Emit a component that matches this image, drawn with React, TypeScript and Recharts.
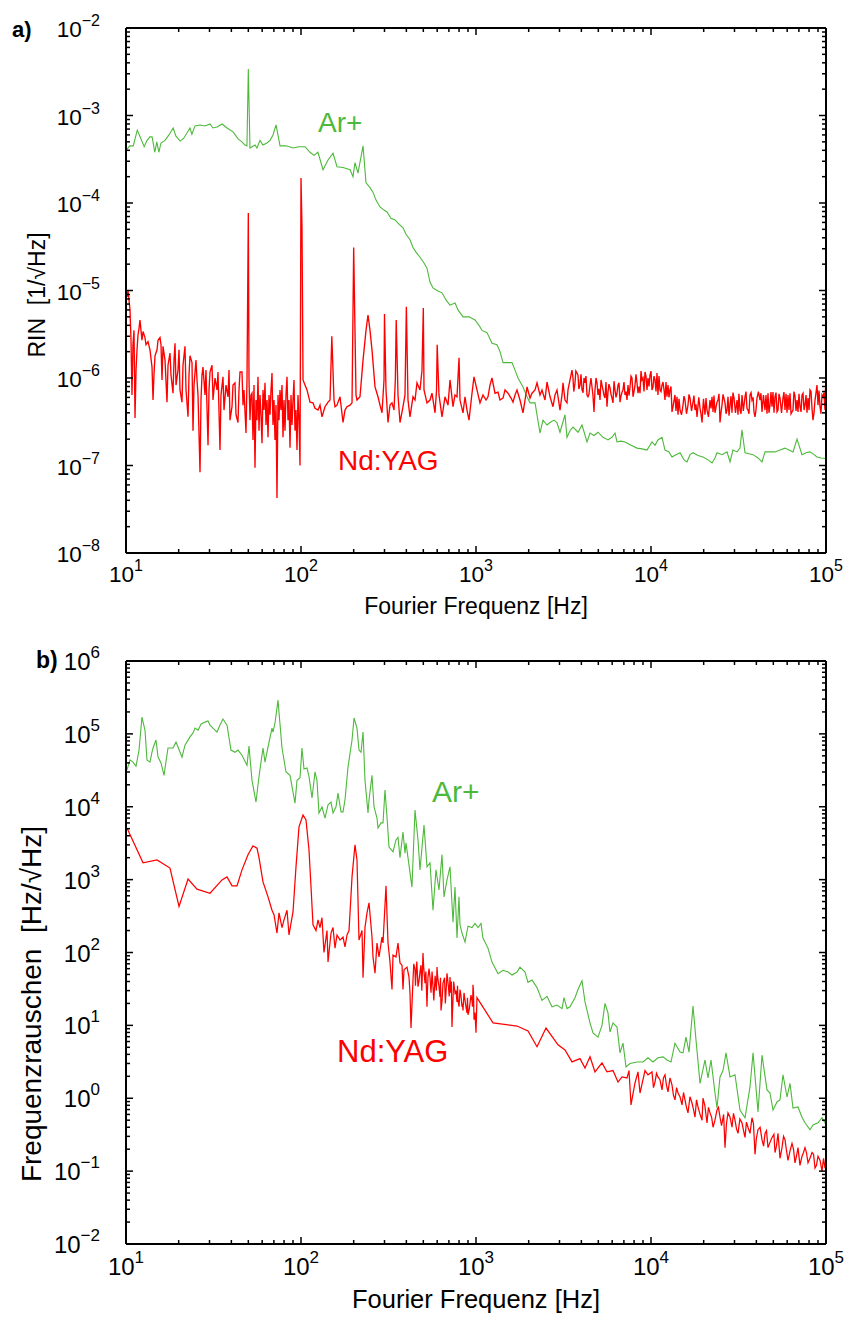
import React from 'react';
import { LineChart, Line, XAxis, YAxis } from 'recharts';

const FONT = '"Liberation Sans", Arial, Helvetica, sans-serif';
const GREEN = '#4db93a';
const RED = '#ff0000';

// tick scaffolding
const MANTISSAS = [1, 2, 3, 4, 5, 6, 7, 8, 9];
const FREQ_DECADES = [1, 2, 3, 4, 5];
const RIN_DECADES = [-8, -7, -6, -5, -4, -3, -2];
const FN_DECADES = [-2, -1, 0, 1, 2, 3, 4, 5, 6];

// Panel a) RIN of Ar+ laser  [f (Hz), RIN (1/sqrt(Hz))]
const ARGON_RIN: [number, number][] = [
  [10, 4.0e-4], [10.5, 4.5e-4], [11.0, 4.5e-4], [11.6, 6.8e-4], [12.0, 5.8e-4], [12.7, 4.4e-4], [13.2, 5.2e-4], [13.7, 5.7e-4],
  [14.1, 5.7e-4], [14.6, 3.8e-4], [15.0, 5.0e-4], [15.4, 3.8e-4], [15.85, 4.85e-4], [16.7, 5.2e-4], [17.6, 6.0e-4], [18.6, 7.2e-4],
  [19.3, 5.8e-4], [20.4, 5.1e-4], [21.4, 5.5e-4], [22.3, 6.3e-4], [23.2, 7.2e-4], [23.8, 6.1e-4], [24.8, 7.6e-4], [26.5, 7.8e-4],
  [28.3, 7.6e-4], [30.2, 8.0e-4], [31.4, 7.2e-4], [33.1, 7.4e-4], [35.4, 8.0e-4], [37.8, 7.2e-4], [40.9, 6.5e-4], [43.7, 5.4e-4],
  [46.0, 5.0e-4], [47.9, 4.6e-4], [49.1, 4.5e-4], [50, 3.4e-3], [51.1, 4.25e-4], [54.6, 4.6e-4], [56.0, 4.25e-4], [58.3, 5.2e-4],
  [60.6, 4.6e-4], [63.9, 4.85e-4], [66.5, 5.2e-4], [69.2, 6.0e-4], [72.0, 7.8e-4], [75.9, 4.5e-4], [82.1, 4.5e-4], [90.2, 4.25e-4],
  [97.4, 4.4e-4], [105.4, 4.4e-4], [112.6, 3.8e-4], [118.7, 3.5e-4], [125, 3.8e-4], [133.6, 2.4e-4], [142.7, 3.1e-4], [152.4, 3.7e-4],
  [160.6, 2.6e-4], [173.8, 2.55e-4], [190.6, 2.4e-4], [198.2, 2.0e-4], [203.5, 2.9e-4], [211.7, 2.2e-4], [226.2, 4.5e-4], [235.2, 1.7e-4],
  [247.9, 1.5e-4], [257.8, 1.33e-4], [268.3, 1.08e-4], [282.8, 9.0e-5], [298, 8.3e-5], [310, 7.9e-5], [326.8, 6.7e-5], [344.5, 6.4e-5],
  [363, 5.75e-5], [383, 5.2e-5], [398, 4.4e-5], [419.6, 3.8e-5], [436.6, 3.1e-5], [454, 2.75e-5], [478.7, 2.4e-5], [504.5, 2.06e-5],
  [524.7, 1.8e-5], [546, 1.25e-5], [568, 1.07e-5], [598.5, 1.0e-5], [639, 9.4e-6], [674, 7.8e-6], [710, 6.8e-6], [759, 7.2e-6],
  [789, 6.0e-6], [843, 5.0e-6], [913, 5.0e-6], [987, 4.6e-6], [1040, 4.0e-6], [1082, 3.5e-6], [1156, 3.3e-6], [1234, 2.5e-6],
  [1318, 2.4e-6], [1372, 2.0e-6], [1427, 1.5e-6], [1504, 1.5e-6], [1606, 1.5e-6], [1671, 1.23e-6], [1738, 1.0e-6], [1856, 7.9e-7],
  [1957, 6.1e-7], [2035, 5.2e-7], [2175, 5.2e-7], [2320, 2.35e-7], [2414, 3.3e-7], [2545, 2.9e-7], [2648, 3.1e-7], [2790, 3.3e-7],
  [2900, 3.1e-7], [3020, 2.4e-7], [3225, 3.8e-7], [3310, 2.1e-7], [3445, 2.5e-7], [3583, 2.75e-7], [3830, 2.4e-7], [4034, 2.9e-7],
  [4309, 1.86e-7], [4481, 2.35e-7], [4724, 2.2e-7], [4980, 2.4e-7], [5316, 2.1e-7], [5680, 1.96e-7], [5985, 2.1e-7], [6230, 2.35e-7],
  [6390, 1.86e-7], [6740, 1.9e-7], [7100, 1.86e-7], [7686, 1.7e-7], [8318, 1.58e-7], [8880, 1.55e-7], [9487, 1.5e-7], [10130, 1.86e-7],
  [10540, 1.7e-7], [10960, 1.96e-7], [11560, 2.1e-7], [12020, 1.5e-7], [12670, 1.43e-7], [13180, 1.25e-7], [13890, 1.33e-7], [14650, 1.4e-7],
  [15440, 1.16e-7], [16060, 1.1e-7], [16710, 1.33e-7], [17380, 1.4e-7], [18560, 1.3e-7], [19820, 1.25e-7], [21170, 1.16e-7], [22320, 1.07e-7],
  [23200, 1.22e-7], [23830, 1.4e-7], [25450, 1.33e-7], [27190, 1.43e-7], [28280, 1.1e-7], [29400, 1.5e-7], [31000, 1.43e-7], [32250, 1.58e-7],
  [33100, 2.55e-7], [34450, 1.4e-7], [36300, 1.36e-7], [38300, 1.33e-7], [40870, 1.22e-7], [43090, 1.1e-7], [44810, 1.43e-7], [47870, 1.43e-7],
  [51100, 1.43e-7], [54600, 1.5e-7], [58300, 1.58e-7], [61400, 1.5e-7], [64800, 1.43e-7], [68300, 2.0e-7], [72900, 1.33e-7], [76900, 1.4e-7],
  [81000, 1.43e-7], [85500, 1.33e-7], [88800, 1.25e-7], [93600, 1.22e-7], [100000, 1.2e-7],
];

// Panel a) RIN of Nd:YAG laser
const YAG_RIN: [number, number][] = [
  [10.13, 8.4e-6], [10.27, 1.0e-5], [10.40, 7.8e-6], [10.54, 6.0e-6], [10.68, 2.7e-6], [10.82, 6.4e-7], [10.96, 2.4e-6], [11.11, 3.5e-6],
  [11.26, 3.5e-7], [11.41, 1.23e-6], [11.56, 2.1e-6], [11.71, 3.1e-6], [11.87, 3.7e-6], [12.02, 4.6e-6], [12.18, 3.5e-6], [12.34, 2.7e-6],
  [12.51, 3.4e-6], [12.84, 2.9e-6], [13.01, 2.4e-6], [13.36, 2.6e-6], [13.71, 2.1e-6], [14.08, 1.33e-6], [14.27, 5.6e-7], [14.45, 1.08e-6],
  [14.65, 1.8e-6], [15.04, 2.1e-6], [15.24, 2.7e-6], [15.64, 2.9e-6], [15.85, 2.4e-6], [16.06, 9.5e-7], [16.27, 2.3e-6], [16.71, 1.6e-6],
  [17.15, 5.3e-7], [17.38, 1.4e-6], [17.84, 1.93e-6], [18.08, 1.08e-6], [18.56, 6.7e-7], [18.81, 1.6e-6], [19.06, 2.5e-6], [19.31, 8.3e-7],
  [19.82, 1.23e-6], [20.09, 2.1e-6], [20.35, 7.3e-7], [20.89, 5.3e-7], [21.17, 1.4e-6], [21.73, 2.3e-6], [22.03, 7.3e-7], [22.62, 3.6e-7],
  [22.91, 1.08e-6], [23.21, 1.8e-6], [23.83, 1.5e-6], [24.15, 2.5e-7], [24.47, 8.3e-7], [25.12, 1.6e-6], [25.45, 9.5e-7], [25.79, 6.4e-7],
  [26.48, 8.4e-8], [26.83, 5.6e-7], [27.18, 1.08e-6], [27.54, 1.33e-6], [28.28, 6.4e-7], [28.65, 1.23e-6], [29.42, 1.7e-7], [29.81, 7.3e-7],
  [30.20, 1.17e-6], [31.01, 1.4e-6], [31.42, 5.6e-7], [32.25, 1.0e-6], [33.11, 7.3e-7], [33.55, 1.17e-6], [34.45, 1.5e-7], [34.90, 6.4e-7],
  [35.83, 1.03e-6], [36.31, 4.3e-7], [37.28, 8.3e-7], [38.27, 6.1e-7], [38.78, 1.23e-6], [39.29, 3.3e-7], [40.34, 4.7e-7], [40.87, 8.3e-7],
  [41.96, 8.8e-7], [42.52, 3.8e-7], [43.65, 3.1e-7], [44.23, 7.3e-7], [44.82, 1.17e-6], [46.01, 1.17e-6], [46.62, 4.9e-7], [47.24, 7.3e-7],
  [48.50, 2.35e-7], [49.14, 9.5e-7], [50.0, 7.7e-5], [50.45, 9.5e-7], [51.12, 3.3e-7], [51.79, 6.4e-7], [52.48, 6.7e-7], [53.17, 1.96e-7],
  [53.88, 8.3e-7], [54.59, 9.4e-8], [55.32, 5.6e-7], [56.05, 3.3e-7], [56.79, 1.03e-6], [57.54, 2.5e-7], [58.31, 6.4e-7], [59.07, 3.8e-7],
  [59.86, 1.8e-7], [60.65, 7.3e-7], [61.45, 4.3e-7], [62.27, 8.8e-7], [63.10, 2.9e-7], [63.93, 5.6e-7], [64.78, 2.1e-7], [65.64, 6.4e-7],
  [66.51, 3.8e-7], [67.39, 7.3e-7], [68.28, 1.14e-6], [69.18, 2.9e-7], [70.10, 5.6e-7], [71.03, 1.96e-7], [71.97, 4.9e-7], [72.92, 4.25e-8],
  [73.89, 6.4e-7], [74.87, 3.3e-7], [75.86, 7.3e-7], [76.86, 4.3e-7], [77.88, 8.3e-7], [78.91, 2.1e-7], [79.95, 5.6e-7], [81.01, 2.5e-7],
  [82.09, 6.4e-7], [83.18, 1.03e-6], [84.28, 3.3e-7], [85.40, 5.6e-7], [86.53, 1.6e-7], [87.67, 6.4e-7], [88.83, 2.9e-7], [90.01, 5.6e-7],
  [91.20, 9.5e-7], [92.41, 2.5e-7], [93.63, 4.3e-7], [94.87, 1.5e-7], [96.13, 6.4e-7], [97.40, 3.3e-7], [98.69, 1.0e-7], [100, 1.93e-4],
  [101.3, 5.3e-5], [102.7, 9.5e-7], [105.4, 8.3e-7], [108.2, 7.3e-7], [112.6, 5.3e-7], [117.1, 5.2e-7], [120.2, 4.5e-7], [125.1, 4.3e-7],
  [128.4, 4.9e-7], [131.8, 3.6e-7], [137.1, 4.7e-7], [142.7, 5.3e-7], [146.5, 5.6e-7], [150, 3.0e-6], [154.4, 5.6e-7], [156.4, 4.7e-7],
  [160.6, 4.9e-7], [167.1, 6.1e-7], [173.8, 3.1e-7], [178.4, 4.3e-7], [183.2, 4.7e-7], [190.6, 4.9e-7], [195.7, 5.2e-7], [200, 3.1e-5],
  [206.2, 6.4e-7], [208.9, 5.6e-7], [217.3, 6.1e-7], [226.2, 1.6e-6], [235.2, 3.5e-6], [241.5, 5.25e-6], [247.9, 3.5e-6], [254.5, 2.1e-6],
  [264.8, 7.9e-7], [275.4, 6.1e-7], [282.8, 4.9e-7], [290.3, 4.0e-7], [298.1, 9.5e-7], [300, 5.4e-6], [306.0, 7.3e-7], [314.2, 3.1e-7],
  [322.5, 4.9e-7], [331.1, 5.2e-7], [340.0, 4.3e-7], [346, 9.5e-7], [350, 4.6e-6], [358.3, 6.4e-7], [367.9, 3.1e-7], [382.7, 4.7e-7],
  [392.9, 6.4e-7], [400, 6.5e-6], [408.7, 5.6e-7], [419.6, 3.6e-7], [436.5, 6.1e-7], [448.2, 5.6e-7], [460.1, 8.8e-7], [478.6, 7.3e-7],
  [491.4, 1.23e-6], [500, 6.3e-6], [504.5, 7.3e-7], [524.8, 5.2e-7], [545.9, 5.6e-7], [560.4, 6.7e-7], [583.2, 4.0e-7], [595, 7.3e-7],
  [600, 2.4e-6], [614.5, 6.4e-7], [639.3, 3.6e-7], [665.1, 6.1e-7], [691.8, 4.9e-7], [710.3, 9.5e-7], [738.8, 4.7e-7], [758.6, 6.4e-7],
  [778.8, 6.1e-7], [800, 1.7e-6], [810.1, 5.6e-7], [842.8, 4.0e-7], [865.3, 6.1e-7], [888.3, 4.3e-7], [912.0, 3.3e-7], [948.7, 6.7e-7],
  [974.0, 1.03e-6], [1013, 7.3e-7], [1054, 5.2e-7], [1096, 6.4e-7], [1141, 5.6e-7], [1171, 6.1e-7], [1202, 8.3e-7], [1234, 1.0e-6],
  [1284, 6.7e-7], [1336, 6.9e-7], [1371, 5.6e-7], [1427, 5.9e-7], [1465, 7.3e-7], [1524, 6.7e-7], [1585, 5.9e-7], [1627, 5.3e-7],
  [1671, 6.4e-7], [1715, 7.3e-7], [1784, 5.6e-7], [1856, 4.0e-7], [1906, 5.6e-7], [1957, 7.9e-7], [2035, 5.9e-7], [2089, 6.7e-7],
  [2173, 7.3e-7], [2232, 8.8e-7], [2321, 6.4e-7], [2383, 7.3e-7], [2479, 5.6e-7], [2545, 9.0e-7], [2648, 6.1e-7], [2754, 4.7e-7],
  [2828, 6.4e-7], [2903, 7.3e-7], [3020, 4.3e-7], [3101, 6.4e-7], [3142, 8.8e-7], [3225, 5.6e-7], [3311, 5.2e-7], [3355, 7.3e-7],
  [3445, 9.5e-7], [3536, 1.23e-6], [3583, 1.0e-6], [3679, 8.8e-7], [3777, 1.14e-6], [3827, 1.08e-6], [3929, 8.3e-7], [4034, 7.3e-7],
  [4141, 1.0e-6], [4196, 8.8e-7], [4308, 6.4e-7], [4365, 6.1e-7], [4482, 8.3e-7], [4601, 7.9e-7], [4724, 4.1e-7], [4786, 7.3e-7],
  [4914, 8.8e-7], [4979, 6.4e-7], [5112, 5.6e-7], [5248, 8.3e-7], [5317, 7.3e-7], [5459, 5.9e-7], [5605, 4.7e-7], [5679, 6.9e-7],
  [5831, 7.7e-7], [5986, 5.9e-7], [6065, 5.2e-7], [6227, 7.3e-7], [6393, 6.7e-7], [6478, 8.3e-7], [6651, 5.3e-7], [6828, 6.9e-7],
  [6918, 7.3e-7], [7103, 6.4e-7], [7292, 5.6e-7], [7389, 8.3e-7], [7586, 7.9e-7], [7788, 1.0e-6], [7891, 6.1e-7], [8101, 8.3e-7],
  [8318, 8.8e-7], [8428, 6.7e-7], [8653, 6.7e-7], [8883, 9.5e-7], [9001, 1.0e-6], [9241, 1.17e-6], [9487, 7.3e-7], [9613, 1.0e-6],
  [9869, 1.08e-6], [10130, 7.3e-7], [10270, 7.9e-7], [10540, 9.5e-7], [10820, 1.14e-6], [10960, 6.4e-7], [11260, 7.3e-7], [11560, 8.3e-7],
  [11710, 9.0e-7], [12020, 5.6e-7], [12340, 6.1e-7], [12510, 8.3e-7], [12840, 7.3e-7], [13180, 4.1e-7], [13360, 4.7e-7], [13710, 6.4e-7],
  [14080, 6.1e-7], [14270, 3.8e-7], [14650, 4.3e-7], [15240, 4.9e-7], [15640, 5.6e-7], [16270, 4.9e-7], [16710, 5.9e-7], [17380, 5.3e-7],
  [17840, 4.3e-7], [18320, 3.6e-7], [19060, 4.5e-7], [19570, 3.1e-7], [20350, 3.8e-7], [20890, 4.3e-7], [21730, 5.6e-7], [22320, 6.1e-7],
  [22620, 4.1e-7], [23210, 4.0e-7], [23830, 5.3e-7], [24150, 5.6e-7], [24790, 3.1e-7], [25450, 4.9e-7], [26480, 5.2e-7], [27180, 4.3e-7],
  [27540, 6.1e-7], [28280, 4.9e-7], [29030, 4.0e-7], [29810, 5.9e-7], [31010, 5.6e-7], [31420, 3.8e-7], [32250, 4.3e-7], [33110, 6.4e-7],
  [34450, 6.1e-7], [35360, 4.5e-7], [35830, 4.3e-7], [36790, 6.4e-7], [37770, 5.6e-7], [38780, 4.1e-7], [39290, 3.6e-7], [40340, 5.9e-7],
  [41960, 5.6e-7], [43080, 4.1e-7], [44820, 4.3e-7], [45410, 6.4e-7], [46620, 6.7e-7], [47860, 4.9e-7], [49140, 4.7e-7], [49790, 6.9e-7],
  [51120, 6.1e-7], [52480, 4.1e-7], [53170, 4.3e-7], [54590, 5.9e-7], [56790, 5.9e-7], [58310, 4.3e-7], [59860, 4.0e-7], [60650, 6.4e-7],
  [62270, 6.7e-7], [63930, 4.1e-7], [64780, 4.3e-7], [66510, 6.2e-7], [68280, 5.6e-7], [69180, 4.1e-7], [71030, 4.7e-7], [72920, 6.4e-7],
  [73890, 6.7e-7], [75860, 4.9e-7], [77880, 4.0e-7], [78910, 5.9e-7], [81010, 7.3e-7], [83180, 4.5e-7], [84280, 3.3e-7], [86530, 5.6e-7],
  [88830, 8.3e-7], [90010, 4.9e-7], [92410, 4.7e-7], [94870, 6.4e-7], [96130, 6.1e-7], [98690, 4.3e-7], [100000, 5.3e-7],
];

// Panel a) extra Nd:YAG readings in the dense noise band above 3.5 kHz
const YAG_RIN_DENSE: [number, number][] = [
  [3620, 7.0e-7], [3720, 1.2e-6], [3870, 7.5e-7], [3980, 1.1e-6], [4090, 6.8e-7], [4250, 1.05e-6], [4420, 6.5e-7], [4540, 1.0e-6],
  [4660, 6.3e-7], [4850, 1.0e-6], [5040, 7.5e-7], [5180, 9.5e-7], [5390, 6.3e-7], [5530, 9.0e-7], [5750, 8.5e-7], [5910, 6.5e-7],
  [6146, 9.2e-7], [6310, 6.0e-7], [6564, 8.8e-7], [6739, 6.2e-7], [7010, 9.0e-7], [7197, 7.0e-7], [7487, 6.3e-7], [7686, 1.05e-6],
  [7995, 7.0e-7], [8209, 1.1e-6], [8540, 8.0e-7], [8767, 1.2e-6], [9120, 7.0e-7], [9363, 1.05e-6], [9740, 8.0e-7], [10000, 1.2e-6],
  [10400, 1.05e-6], [10680, 7.0e-7], [11110, 1.05e-6], [11410, 7.0e-7], [11870, 7.3e-7], [12180, 9.0e-7], [12670, 6.0e-7], [13010, 8.0e-7],
  [13530, 5.5e-7], [13890, 4.2e-7], [14460, 5.8e-7], [14950, 3.8e-7], [15430, 6.2e-7], [15950, 3.9e-7], [16490, 6.5e-7], [17050, 4.2e-7],
  [17600, 6.3e-7], [18080, 5.0e-7], [18750, 6.0e-7], [19300, 3.9e-7], [19950, 5.8e-7], [20620, 5.9e-7], [21300, 3.6e-7], [22020, 4.5e-7],
  [22900, 6.3e-7], [23500, 4.6e-7], [24470, 6.6e-7], [25100, 4.0e-7], [25800, 6.5e-7], [26830, 3.9e-7], [27900, 3.7e-7], [28650, 6.2e-7],
  [29400, 6.8e-7], [30400, 4.0e-7], [31800, 6.6e-7], [32700, 3.9e-7], [33700, 4.2e-7], [34900, 7.0e-7], [36300, 3.9e-7], [37300, 6.8e-7],
  [38300, 6.0e-7], [39800, 4.3e-7], [41100, 7.0e-7], [42500, 6.7e-7], [43900, 6.4e-7], [46000, 3.9e-7], [47200, 4.0e-7], [48500, 6.9e-7],
  [50450, 4.0e-7], [51800, 6.8e-7], [53900, 6.6e-7], [55700, 4.0e-7], [57500, 6.9e-7], [59100, 6.6e-7], [61450, 4.3e-7], [63100, 3.9e-7],
  [65600, 7.0e-7], [67400, 4.2e-7], [70100, 6.6e-7], [72000, 4.1e-7], [74900, 4.3e-7], [76900, 6.4e-7], [80000, 4.3e-7], [82100, 7.0e-7],
  [85400, 4.0e-7], [87700, 6.8e-7], [91200, 7.2e-7], [93600, 3.9e-7], [97400, 6.8e-7], [99300, 7.6e-7],
];

// Panel b) frequency noise of Ar+ laser  [f (Hz), Hz/sqrt(Hz)]
const ARGON_FN: [number, number][] = [
  [10.13, 3.2e4], [10.54, 4.4e4], [10.96, 4.1e4], [11.41, 3.6e4], [11.87, 6.0e4], [12.34, 1.7e5], [12.84, 1.12e5], [13.18, 4.4e4],
  [13.71, 4.1e4], [14.08, 5.6e4], [14.27, 6.4e4], [14.84, 8.25e4], [15.24, 4.8e4], [15.85, 4.0e4], [16.49, 2.7e4], [17.38, 6.4e4],
  [18.56, 6.4e4], [19.31, 7.7e4], [19.82, 6.6e4], [20.89, 4.8e4], [21.73, 7.0e4], [23.21, 9.1e4], [24.15, 1.03e5], [24.79, 1.2e5],
  [25.79, 1.12e5], [26.83, 1.36e5], [28.28, 1.45e5], [29.42, 1.5e5], [30.2, 1.32e5], [31.42, 1.2e5], [33.11, 1.06e5], [34.45, 1.32e5],
  [35.83, 1.6e5], [37.77, 1.32e5], [39.81, 6.0e4], [41.96, 5.6e4], [43.65, 6.0e4], [46.01, 5.1e4], [49.14, 3.7e4], [50.45, 6.8e4],
  [52.48, 2.3e4], [55.32, 1.16e4], [57.54, 2.6e4], [60.65, 6.4e4], [62.27, 4.1e4], [64.78, 6.6e4], [68.28, 1.2e5], [69.18, 1.06e5],
  [71.03, 1.41e5], [73.89, 2.9e5], [77.88, 6.4e4], [82.09, 3.0e4], [86.53, 2.7e4], [92.41, 1.12e4], [94.87, 2.3e4], [98.69, 2.5e4],
  [101.3, 6.4e4], [104.0, 3.3e4], [108.2, 3.4e4], [111.1, 2.6e4], [115.6, 1.32e4], [120.2, 3.0e4], [123.4, 2.3e4], [126.7, 8.2e3],
  [131.8, 1.0e4], [137.1, 7.0e3], [142.7, 1.06e4], [148.4, 1.16e4], [152.4, 8.2e3], [158.5, 1.0e4], [162.7, 1.54e4], [169.3, 8.5e3],
  [173.8, 8.5e3], [178.4, 1.24e4], [185.6, 3.5e4], [195.7, 8.25e4], [200.9, 1.65e5], [208.9, 1.2e5], [214.5, 6.0e4], [220.3, 5.6e4],
  [226.2, 1.06e5], [232.1, 2.3e4], [241.5, 8.2e3], [244.7, 1.24e4], [254.5, 2.7e4], [261.3, 1.0e4], [271.8, 7.0e3], [275.4, 5.1e3],
  [286.5, 6.0e3], [294.2, 6.0e3], [302.0, 1.7e4], [310.1, 7.2e3], [318.3, 2.8e3], [335.5, 2.4e3], [349.0, 3.5e3], [358.3, 3.8e3],
  [367.9, 2.0e3], [382.7, 4.5e3], [392.9, 2.3e3], [398.1, 3.2e3], [408.7, 2.0e3], [430.5, 7.9e2], [448.2, 9.0e3], [466.2, 3.5e3],
  [478.6, 1.36e3], [504.5, 5.6e3], [524.8, 1.5e3], [545.9, 1.7e3], [568.0, 3.8e2], [590.7, 1.36e3], [614.5, 7.2e2], [639.3, 2.2e3],
  [656.4, 5.8e2], [682.8, 9.9e2], [710.3, 1.5e3], [738.8, 2.6e2], [758.6, 7.9e2], [778.8, 1.58e2], [799.5, 5.8e2], [810.1, 2.4e2],
  [831.8, 1.85e2], [865.3, 1.39e2], [900.1, 2.3e2], [948.7, 2.2e2], [986.9, 2.5e2], [1027, 2.2e2], [1068, 2.5e2], [1096, 1.58e2],
  [1171, 1.15e2], [1234, 74], [1336, 51], [1427, 57], [1524, 54], [1606, 49], [1715, 54], [1784, 63],
  [1906, 54], [1982, 39], [2089, 42], [2232, 33], [2383, 22], [2545, 25], [2718, 18], [2903, 19],
  [3101, 17], [3183, 24], [3311, 17], [3445, 18], [3679, 24], [3827, 31], [4034, 41], [4196, 21],
  [4482, 10.8], [4662, 7.9], [4979, 6.9], [5248, 10], [5459, 20], [5679, 14.8], [5831, 8.1], [6065, 10.8],
  [6393, 9.5], [6651, 4.2], [6918, 5.7], [7197, 2.7], [7586, 3.0], [8318, 3.15], [9001, 3.15], [9613, 3.6],
  [10270, 3.15], [10960, 3.6], [11710, 3.7], [12340, 3.35], [13010, 3.15], [13710, 5.7], [14650, 4.3], [15240, 4.2],
  [15850, 6.9], [16490, 4.3], [17380, 18.4], [18080, 6.3], [19060, 1.6], [20350, 3.35], [21170, 1.9], [22030, 3.35],
  [23210, 1.18], [23830, 0.735], [24790, 1.96], [25790, 2.4], [26830, 4.2], [28280, 1.96], [30200, 2.1], [32250, 0.69],
  [34450, 0.54], [36790, 1.43], [38290, 4.2], [40870, 0.65], [43080, 3.9], [46010, 1.3], [47860, 1.18], [49790, 0.69],
  [52480, 0.89], [54590, 0.95], [56790, 2.1], [59860, 1.04], [62270, 1.6], [64780, 0.735], [69180, 0.76], [72920, 0.55],
  [75860, 0.46], [81010, 0.37], [84280, 0.43], [90010, 0.46], [94870, 0.54], [98690, 0.46], [100000, 0.48],
];

// Panel b) frequency noise of Nd:YAG laser
const YAG_FN: [number, number][] = [
  [10.13, 5.1e3], [12.51, 1.7e3], [15.04, 1.86e3], [17.84, 1.44e3], [20.09, 4.3e2], [22.62, 1.02e3], [25.45, 7.4e2], [30.2, 6.5e2],
  [35.36, 9.9e2], [37.77, 1.09e3], [40.34, 8.2e2], [43.08, 8.2e2], [46.01, 1.36e3], [49.79, 2.2e3], [53.17, 2.9e3], [56.05, 2.7e3],
  [57.54, 2.0e3], [60.65, 9.3e2], [64.78, 5.8e2], [68.28, 3.8e2], [70.10, 3.3e2], [72.92, 1.85e2], [74.87, 3.5e2], [77.88, 2.2e2],
  [79.95, 2.8e2], [83.18, 3.8e2], [85.40, 1.74e2], [88.83, 3.0e2], [90.01, 3.6e2], [93.63, 1.5e3], [97.40, 5.3e3], [102.7, 7.7e3],
  [106.8, 6.6e3], [111.1, 2.55e3], [114.1, 7.9e2], [117.1, 2.4e2], [121.8, 2.0e2], [125.1, 2.8e2], [128.4, 2.2e2], [131.8, 3.0e2],
  [135.3, 1.0e2], [140.8, 2.0e2], [142.7, 74], [148.4, 1.85e2], [152.4, 2.2e2], [156.4, 1.15e2], [160.6, 1.74e2], [167.1, 1.48e2],
  [173.8, 1.63e2], [178.4, 1.19e2], [183.2, 1.74e2], [188.1, 2.0e2], [195.7, 1.09e3], [203.5, 3.0e3], [208.9, 1.86e3], [214.5, 1.48e2],
  [223.2, 2.0e2], [226.2, 45], [232.1, 2.2e2], [238.3, 3.5e2], [244.7, 4.8e2], [254.5, 1.63e2], [257.9, 87], [264.8, 52],
  [271.8, 1.35e2], [279.1, 87], [290.3, 1.63e2], [294.2, 1.35e2], [306.0, 8.2e2], [314.2, 1.35e2], [322.5, 74], [331.1, 31],
  [335.5, 92], [349.0, 87], [358.3, 1.35e2], [367.9, 72], [377.7, 67], [382.7, 31], [387.8, 58], [403.4, 63],
  [414.1, 46], [419.6, 28], [425.2, 9.2], [436.5, 42], [448.2, 58], [454.1, 52], [466.2, 34], [485.0, 67],
  [497.9, 98], [511.2, 38], [524.8, 18], [531.7, 46], [545.9, 46], [553.2, 28], [568.0, 34], [590.7, 34],
  [598.6, 63], [606.5, 42], [622.7, 24.5], [631.0, 16], [647.8, 38], [674.0, 28], [682.8, 52], [710.3, 46],
  [719.7, 33], [728.9, 9.5], [758.6, 28], [778.8, 21], [789.1, 22], [810.1, 31], [831.8, 18], [842.8, 16],
  [865.3, 22], [888.3, 14.8], [900.1, 14], [924.1, 20], [948.7, 22], [961.3, 36], [974.0, 12], [1000, 7.9],
  [1013, 24], [1251, 10.8], [1715, 9.8], [1982, 8.4], [2232, 5.1], [2512, 9.2], [2942, 5.4], [3225, 4.6],
  [3536, 3.15], [3929, 3.5], [4196, 2.6], [4482, 3.7], [4786, 2.3], [5248, 3.05], [5605, 2.3], [6065, 2.4],
  [6478, 1.67], [6828, 1.96], [7292, 1.9], [7486, 2.4], [7686, 0.81], [8101, 1.62], [8428, 2.3], [8653, 1.18],
  [9241, 2.4], [9613, 2.1], [10130, 2.3], [10540, 1.67], [10960, 1.96], [11560, 1.3], [12020, 2.1], [12510, 1.22],
  [13180, 1.52], [13710, 0.95], [14270, 1.18], [15040, 0.81], [15640, 0.95], [16270, 0.63], [17150, 0.86], [17840, 0.55],
  [18560, 0.76], [19570, 0.50], [19820, 1.0], [20890, 0.46], [21730, 0.63], [22620, 0.40], [23830, 0.69], [24790, 0.55],
  [25790, 0.54], [26480, 0.21], [27540, 0.63], [29030, 0.40], [30200, 0.50], [31420, 0.33], [33110, 0.46], [34450, 0.29],
  [35830, 0.40], [37770, 0.54], [39290, 0.17], [40870, 0.37], [43080, 0.27], [44820, 0.33], [46620, 0.21], [49140, 0.29],
  [51120, 0.18], [53170, 0.33], [56050, 0.21], [58310, 0.27], [60650, 0.14], [63930, 0.24], [66510, 0.13], [69180, 0.21],
  [72920, 0.16], [75860, 0.21], [78910, 0.13], [83180, 0.18], [86530, 0.11], [90010, 0.16], [94870, 0.10], [98690, 0.11],
  [100000, 0.14],
];

// Panel b) extra Nd:YAG readings in the dense noise bands
const YAG_FN_DENSE: [number, number][] = [
  [441, 70], [451, 35], [459, 75], [472, 40], [479, 55], [490, 30], [503, 60], [517, 55],
  [528, 30], [539, 60], [549, 37], [561, 55], [574, 22], [584, 48], [594, 30], [602, 50],
  [614, 35], [627, 45], [640, 22], [661, 45], [668, 20], [678, 38], [695, 35], [703, 25],
  [715, 28], [723, 40], [745, 40], [768, 30], [784, 35], [800, 18], [820, 26], [837, 20],
  [854, 28], [876, 18], [894, 24], [913, 16], [936, 26], [955, 18], [968, 28], [987, 15],
  [10330, 1.4], [10750, 2.2], [11250, 1.8], [11780, 1.9], [12260, 1.5], [12840, 1.9], [13440, 1.1], [14000, 1.4],
  [14640, 1.05], [15340, 1.2], [15950, 0.75], [16700, 1.05], [17500, 0.7], [18200, 0.95], [19000, 0.62], [20300, 0.8],
  [21300, 0.75], [22200, 0.55], [23200, 0.5], [24300, 0.75], [25300, 0.42], [26000, 0.6], [27000, 0.45], [28300, 0.55],
  [29600, 0.62], [30800, 0.38], [32200, 0.52], [33800, 0.36], [35100, 0.47], [36800, 0.33], [38500, 0.45], [40000, 0.28],
  [42000, 0.4], [44000, 0.22], [45700, 0.36], [47900, 0.25], [50400, 0.32], [52100, 0.22], [54600, 0.15], [57200, 0.3],
  [59300, 0.2], [62300, 0.19], [65200, 0.2], [67800, 0.16], [71000, 0.12], [74400, 0.18], [77300, 0.18], [81000, 0.15],
  [84900, 0.17], [88200, 0.12], [92500, 0.14], [96800, 0.15],
];

function buildTicks(decades: number[]): number[] {
  const out: number[] = [];
  decades.forEach((e, i) => {
    MANTISSAS.forEach((m) => {
      if (i === decades.length - 1 && m > 1) return;
      out.push(m * Math.pow(10, e));
    });
  });
  return out;
}

const FREQ_TICKS = buildTicks(FREQ_DECADES);
const RIN_TICKS = buildTicks(RIN_DECADES);
const FN_TICKS = buildTicks(FN_DECADES);

const toRows = (...arrs: [number, number][][]) =>
  ([] as [number, number][])
    .concat(...arrs)
    .sort((a, b) => a[0] - b[0])
    .map(([f, v]) => ({ f, v }));

function expInfo(v: number) {
  const l = Math.log10(v);
  const e = Math.round(l);
  return { e, major: Math.abs(l - e) < 1e-6 };
}
const fmtExp = (e: number) => (e < 0 ? '\u2212' + Math.abs(e) : String(e));

function makeXTick(side: 'bottom' | 'top', fs: number, supFs: number, base: number, supShift: number) {
  return (props: any) => {
    const { x, y, payload } = props;
    const { e, major } = expInfo(payload.value);
    const len = major ? 7 : 4;
    const dir = side === 'bottom' ? -1 : 1;
    return (
      <g>
        <line x1={x} y1={y} x2={x} y2={y + dir * len} stroke="#000" strokeWidth={1.5} />
        {side === 'bottom' && major ? (
          <text x={x} y={y + base} textAnchor="middle" fontSize={fs} fontFamily={FONT} fill="#000">
            10
            <tspan dy={-supShift} fontSize={supFs}>{fmtExp(e)}</tspan>
          </text>
        ) : null}
      </g>
    );
  };
}

function makeYTick(side: 'left' | 'right', fs: number, supFs: number, base: number, supShift: number) {
  return (props: any) => {
    const { x, y, payload } = props;
    const { e, major } = expInfo(payload.value);
    const len = major ? 7 : 4;
    const dir = side === 'left' ? 1 : -1;
    return (
      <g>
        <line x1={x} y1={y} x2={x + dir * len} y2={y} stroke="#000" strokeWidth={1.5} />
        {side === 'left' && major ? (
          <text x={x - 26} y={y + base} textAnchor="end" fontSize={fs} fontFamily={FONT} fill="#000">
            10
            <tspan dy={-supShift} fontSize={supFs}>{fmtExp(e)}</tspan>
          </text>
        ) : null}
      </g>
    );
  };
}

const AXIS_LINE = { stroke: '#000', strokeWidth: 2 };

interface PanelProps {
  height: number;
  topH: number;
  bottomH: number;
  yTicks: number[];
  yDomain: [number, number];
  green: { f: number; v: number }[];
  red: { f: number; v: number }[];
  redWidth: number;
  fs: number;
  supFs: number;
  xBase: number;
  yBase: number;
  supShift: number;
}

function Panel(p: PanelProps) {
  return (
    <LineChart width={844} height={p.height} margin={{ top: 0, right: 0, bottom: 0, left: 0 }}>
      <XAxis
        xAxisId="bottom"
        orientation="bottom"
        type="number"
        dataKey="f"
        scale="log"
        domain={[10, 100000]}
        allowDataOverflow
        ticks={FREQ_TICKS}
        interval={0}
        tickSize={0}
        tickMargin={0}
        tickLine={false}
        axisLine={AXIS_LINE}
        height={p.bottomH}
        tick={makeXTick('bottom', p.fs, p.supFs, p.xBase, p.supShift)}
      />
      <XAxis
        xAxisId="top"
        orientation="top"
        type="number"
        dataKey="f"
        scale="log"
        domain={[10, 100000]}
        allowDataOverflow
        ticks={FREQ_TICKS}
        interval={0}
        tickSize={0}
        tickMargin={0}
        tickLine={false}
        axisLine={AXIS_LINE}
        height={p.topH}
        tick={makeXTick('top', p.fs, p.supFs, p.xBase, p.supShift)}
      />
      <YAxis
        yAxisId="left"
        orientation="left"
        type="number"
        scale="log"
        domain={p.yDomain}
        allowDataOverflow
        ticks={p.yTicks}
        interval={0}
        tickSize={0}
        tickMargin={0}
        tickLine={false}
        axisLine={AXIS_LINE}
        width={126}
        tick={makeYTick('left', p.fs, p.supFs, p.yBase, p.supShift)}
      />
      <YAxis
        yAxisId="right"
        orientation="right"
        type="number"
        scale="log"
        domain={p.yDomain}
        allowDataOverflow
        ticks={p.yTicks}
        interval={0}
        tickSize={0}
        tickMargin={0}
        tickLine={false}
        axisLine={AXIS_LINE}
        width={18}
        tick={makeYTick('right', p.fs, p.supFs, p.yBase, p.supShift)}
      />
      <Line
        xAxisId="bottom"
        yAxisId="left"
        data={p.green}
        dataKey="v"
        type="linear"
        stroke={GREEN}
        strokeWidth={1.1}
        dot={false}
        activeDot={false}
        isAnimationActive={false}
      />
      <Line
        xAxisId="bottom"
        yAxisId="left"
        data={p.red}
        dataKey="v"
        type="linear"
        stroke={RED}
        strokeWidth={p.redWidth}
        dot={false}
        activeDot={false}
        isAnimationActive={false}
      />
    </LineChart>
  );
}

export default function App() {
  return (
    <div style={{ position: 'absolute', left: 0, top: 0, width: 844, height: 1320, background: '#fff' }}>
      <div style={{ position: 'absolute', left: 0, top: 0 }}>
        <Panel
          height={620}
          topH={28}
          bottomH={67}
          yTicks={RIN_TICKS}
          yDomain={[1e-8, 1e-2]}
          green={toRows(ARGON_RIN)}
          red={toRows(YAG_RIN, YAG_RIN_DENSE)}
          redWidth={1.35}
          fs={22.5}
          supFs={16}
          xBase={29}
          yBase={9}
          supShift={11}
        />
      </div>
      <div style={{ position: 'absolute', left: 0, top: 620 }}>
        <Panel
          height={700}
          topH={41}
          bottomH={76}
          yTicks={FN_TICKS}
          yDomain={[1e-2, 1e6]}
          green={toRows(ARGON_FN)}
          red={toRows(YAG_FN, YAG_FN_DENSE)}
          redWidth={1.25}
          fs={24}
          supFs={17}
          xBase={31}
          yBase={9}
          supShift={12}
        />
      </div>
      <svg
        width={844}
        height={1320}
        style={{ position: 'absolute', left: 0, top: 0, pointerEvents: 'none' }}
        fontFamily={FONT}
      >
        <text x={12} y={37} fontSize={22} fontWeight="bold" fill="#000">a)</text>
        <text x={36} y={668} fontSize={23} fontWeight="bold" fill="#000">b)</text>
        <text x={318} y={132} fontSize={28} fill={GREEN}>Ar+</text>
        <text x={338} y={470} fontSize={28} fill={RED}>Nd:YAG</text>
        <text x={432} y={802} fontSize={30} fill={GREEN}>Ar+</text>
        <text x={337} y={1062} fontSize={31} fill={RED}>Nd:YAG</text>
        <text x={476} y={614} fontSize={23} textAnchor="middle" fill="#000">Fourier Frequenz [Hz]</text>
        <text x={476} y={1308} fontSize={25.5} textAnchor="middle" fill="#000">Fourier Frequenz [Hz]</text>
        <text transform="translate(45,295) rotate(-90)" fontSize={23} textAnchor="middle" fill="#000" style={{ whiteSpace: 'pre' }}>
          {'RIN  [1/\u221AHz]'}
        </text>
        <text transform="translate(41,1004) rotate(-90)" fontSize={28} textAnchor="middle" fill="#000" style={{ whiteSpace: 'pre' }}>
          {'Frequenzrauschen  [Hz/\u221AHz]'}
        </text>
      </svg>
    </div>
  );
}
